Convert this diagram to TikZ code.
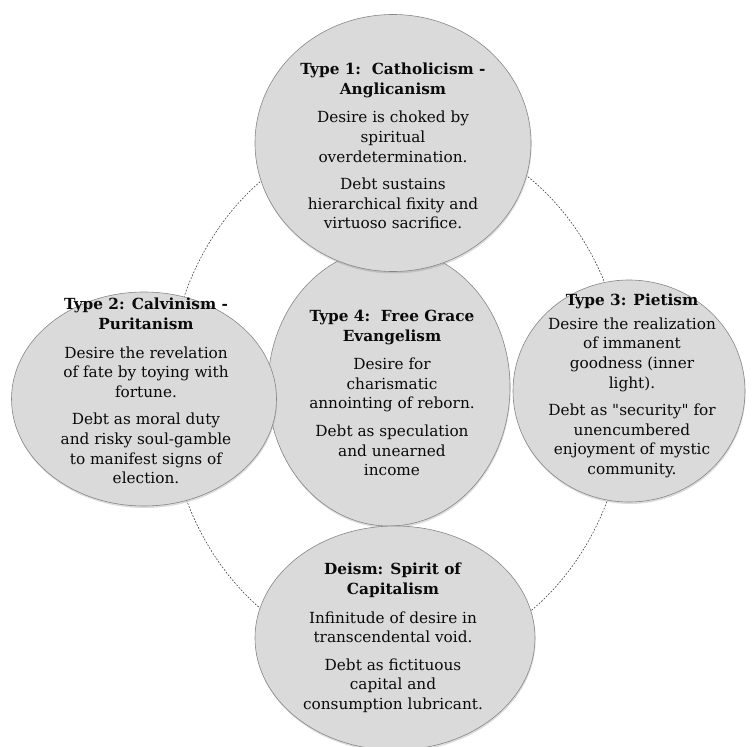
\documentclass[tikz,border=0pt]{standalone}
\usepackage{fontspec}
\setmainfont{DejaVu Serif}
\newfontfamily\plainquote{DejaVu Serif}[Ligatures=TeXOff]
\usetikzlibrary{shapes.geometric,shadows}
\definecolor{discfill}{RGB}{218,218,218}
\definecolor{discedge}{RGB}{135,135,135}
\definecolor{inktext}{RGB}{10,10,10}
\definecolor{ringcol}{RGB}{55,55,55}
\begin{document}
\begin{tikzpicture}[x=1pt,y=-1pt,
  disc/.style={ellipse, draw=discedge, line width=0.6pt, fill=discfill, inner sep=0pt,
    drop shadow={shadow xshift=0.6pt, shadow yshift=-2pt, opacity=0.28}},
  blurb/.style={align=center, text=inktext, font=\fontsize{15.3}{19.6}\selectfont, inner sep=0pt},
  ring/.style={draw=ringcol, line width=0.55pt, dash pattern=on 1.8pt off 1.5pt}]
\useasboundingbox (0,0) rectangle (753,747);
\coordinate (ringc) at (397,395);
\draw[ring] (ringc) ellipse [x radius=229, y radius=266];
% circles (centre first so the others lie over it)
\node[disc, minimum width=242pt, minimum height=278pt] (c4) at (389,387) {};
\node[disc, minimum width=276pt, minimum height=257pt] (c1) at (393,143) {};
\node[disc, minimum width=265pt, minimum height=214pt] (c2) at (144,399) {};
\node[disc, minimum width=232pt, minimum height=222pt] (c3) at (629,391) {};
\node[disc, minimum width=280pt, minimum height=224pt] (c5) at (395,638) {};
% texts
\node[blurb] (t1) at (393,146) {\textbf{Type 1:\ \ Catholicism -}\\\textbf{Anglicanism}\\[9pt]
  Desire is choked by\\spiritual\\overdetermination.\\[8pt]
  Debt sustains\\hierarchical fixity and\\virtuoso sacrifice.};
\node[blurb] (t2) at (146,391) {\textbf{Type 2: Calvinism -}\\\textbf{Puritanism}\\[9pt]
  Desire the revelation\\of fate by toying with\\fortune.\\[8pt]
  Debt as moral duty\\and risky soul-gamble\\to manifest signs of\\election.};
\node[blurb] (t4) at (392,393) {\textbf{Type 4:\ \ Free Grace}\\\textbf{Evangelism}\\[9pt]
  Desire for\\charismatic\\annointing of reborn.\\[8pt]
  Debt as speculation\\and unearned\\income};
\node[blurb] (t3) at (632,386) {\textbf{Type 3: Pietism}\\[4pt]
  Desire the realization\\of immanent\\goodness (inner\\light).\\[8pt]
  Debt as {\plainquote"}security{\plainquote"} for\\unencumbered\\enjoyment of mystic\\community.};
\node[blurb] (t5) at (393,638) {\textbf{Deism: Spirit of}\\\textbf{Capitalism}\\[9pt]
  Infinitude of desire in\\transcendental void.\\[8pt]
  Debt as fictituous\\capital and\\consumption lubricant.};
\end{tikzpicture}
\end{document}
